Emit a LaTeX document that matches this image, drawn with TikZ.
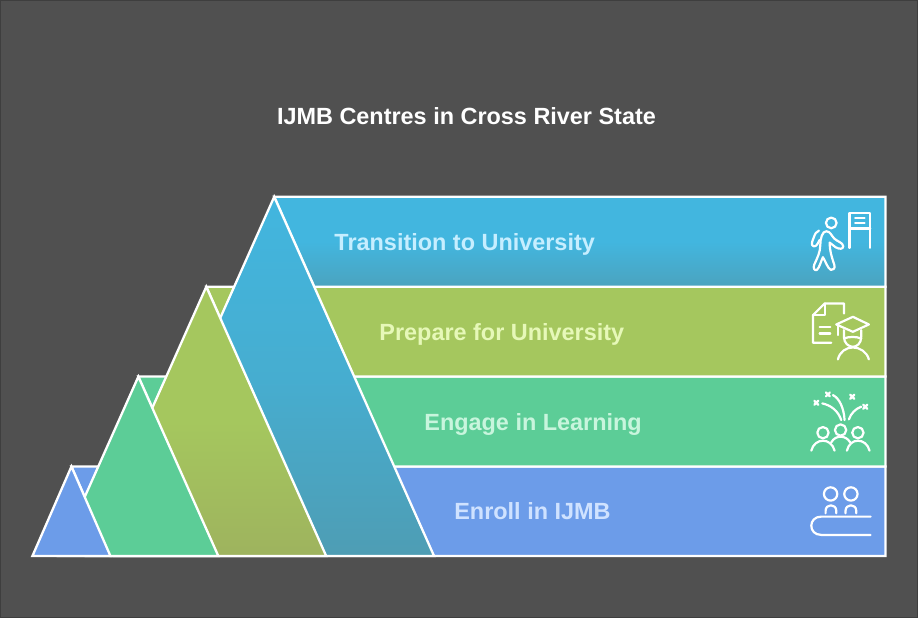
\documentclass[tikz,border=0pt]{standalone}
\usepackage{fontspec}
\usepackage{xcolor}
\setmainfont{Liberation Sans}
\usetikzlibrary{calc}

\definecolor{backgrey}{HTML}{505050}
\definecolor{edgegrey}{HTML}{3E3E3E}
\definecolor{barblue}{HTML}{6C9CE9}
\definecolor{bargreen}{HTML}{5CCD97}
\definecolor{barolive}{HTML}{A5C75E}
\definecolor{barcyan}{HTML}{42B6DF}
\definecolor{endcyan}{HTML}{4E9DB4}
\definecolor{endolive}{HTML}{9EB35E}
\definecolor{textblue}{HTML}{CFE2FF}
\definecolor{textgreen}{HTML}{C8F5DD}
\definecolor{textolive}{HTML}{E6F8B8}
\definecolor{textcyan}{HTML}{C6EEFF}

\tikzset{
	band/.style={draw=white, line width=0.046cm, line join=miter},
	icon/.style={draw=white, line width=0.044cm, line cap=round, line join=round},
	bandlabel/.style={anchor=base west, inner sep=0pt, font=\fontsize{13.35}{16}\selectfont\bfseries},
}

\begin{document}
\begin{tikzpicture}[x=0.02cm,y=-0.02cm]
	\draw [draw=edgegrey, fill=backgrey, line width=0.02cm] (0,0) rectangle (918,618);
	\useasboundingbox (0,0) rectangle (918,618);

	\node [anchor=base, inner sep=0pt, font=\fontsize{13.35}{16}\selectfont\bfseries, text=white] (title) at (466.5,124) {IJMB Centres in Cross River State};

	% bars, bottom one first
	\path [band, fill=barblue] (71,466.5) -- (886,466.5) -- (886,556) -- (110,556) -- cycle;
	\path [band, fill=bargreen] (138,376.5) -- (886,376.5) -- (886,466.5) -- (178,466.5) -- cycle;
	\path [band, fill=barolive] (206,286.5) -- (886,286.5) -- (886,376.5) -- (246,376.5) -- cycle;
	\path [band, top color=barcyan, bottom color=endcyan!75!barcyan, middle color=barcyan] (274,196.5) -- (886,196.5) -- (886,286.5) -- (314,286.5) -- cycle;

	% triangles, back to front
	\path [band, top color=barcyan, bottom color=endcyan, middle color=barcyan!65!endcyan] (274,196.5) -- (434,556) -- (114,556) -- cycle;
	\path [band, top color=barolive, bottom color=endolive, middle color=barolive] (206,286.5) -- (326,556) -- (86,556) -- cycle;
	\path [band, fill=bargreen] (138,376.5) -- (218,556) -- (58,556) -- cycle;
	\path [band, fill=barblue] (71,466.5) -- (110,556) -- (32,556) -- cycle;

	\node [bandlabel, text=textcyan] (transition) at (334,250) {Transition to University};
	\node [bandlabel, text=textolive] (prepare) at (379,340) {Prepare for University};
	\node [bandlabel, text=textgreen] (engage) at (424,430) {Engage in Learning};
	\node [bandlabel, text=textblue] (enroll) at (454,520) {Enroll in IJMB};

	% walker and sign
	\begin{scope}[shift={(790,195)},scale=0.3333]
		\draw [icon] (125,83) circle (16);
		\draw [icon] (180,158) -- (180,52) -- (242,52) -- (242,158);
		\draw [icon] (180,100) -- (242,100);
		\draw [icon] (197,67) -- (225,67);
		\draw [icon] (197,83) -- (225,83);
		\draw [icon] (88,106) .. controls (80,108) and (76,116) .. (72,128) .. controls (66,142) and (64,150) .. (72,153) .. controls (80,155) and (84,146) .. (90,134);
		\draw [icon] (110,108) .. controls (122,108) and (126,122) .. (134,130) .. controls (142,138) and (160,142) .. (161,153) .. controls (161,163) and (148,162) .. (138,156) -- (120,142) .. controls (120,165) and (126,185) .. (134,208) .. controls (138,220) and (130,226) .. (124,224) .. controls (114,220) and (108,198) .. (100,186) .. controls (94,198) and (90,216) .. (82,224) .. controls (74,228) and (70,218) .. (74,208) .. controls (84,186) and (92,170) .. (92,150) .. controls (92,130) and (98,108) .. (110,108);
	\end{scope}

	% document and cap
	\begin{scope}[shift={(790,195)},scale=0.3333]
		\draw [icon] (163,355) -- (163,325) -- (105,325) -- (70,360) -- (70,443) -- (125,443);
		\draw [icon] (105,325) -- (105,360) -- (70,360);
		\draw [icon] (90,395) -- (122,395);
		\draw [icon] (90,415) -- (122,415);
		\draw [icon] (140,388) -- (190,365) -- (238,388) -- (190,410) -- cycle;
		\draw [icon] (145,390) -- (145,420);
		\draw [icon] (163,405) -- (163,425) .. controls (163,445) and (178,455) .. (190,455) .. controls (202,455) and (215,445) .. (215,425) -- (215,405);
		\draw [icon] (163,430) .. controls (178,424) and (200,424) .. (215,430);
		\draw [icon] (145,493) .. controls (150,470) and (170,457) .. (190,457) .. controls (210,457) and (232,470) .. (238,493);
	\end{scope}

	% group and sparks
	\begin{scope}[shift={(790,380)},scale=0.3333]
		\foreach \headx/\heady in {100/158,153/150,205/158}
			\draw [icon] (\headx,\heady) circle (17);
		\draw [icon] (65,212) .. controls (70,192) and (85,182) .. (100,182) .. controls (115,182) and (130,192) .. (135,212);
		\draw [icon] (125,187) .. controls (132,175) and (142,170) .. (153,170) .. controls (164,170) and (174,175) .. (182,187);
		\draw [icon] (172,212) .. controls (177,192) and (190,182) .. (205,182) .. controls (220,182) and (235,192) .. (240,212);
		\draw [icon] (98,70) .. controls (125,76) and (145,92) .. (155,120);
		\draw [icon] (130,45) .. controls (150,55) and (163,85) .. (165,120);
		\draw [icon] (178,118) .. controls (184,100) and (198,86) .. (215,80);
		\foreach \sparkx/\sparky in {80/68,115/43,188/50,227/80}
			\draw [icon] (\sparkx-6,\sparky-6) -- (\sparkx+6,\sparky+6) (\sparkx-6,\sparky+6) -- (\sparkx+6,\sparky-6);
	\end{scope}

	% people at a table
	\begin{scope}[shift={(790,380)},scale=0.3333]
		\foreach \headx in {123,184}
			\draw [icon] (\headx,342) circle (20);
		\foreach \archx in {124,184}
			\draw [icon] (\archx-16,400) -- (\archx-16,392) .. controls (\archx-16,382) and (\archx-8,376) .. (\archx,376) .. controls (\archx+8,376) and (\archx+16,382) .. (\archx+16,392) -- (\archx+16,400);
		\draw [icon] (243,410) -- (95,410) .. controls (55,410) and (55,465) .. (95,465) -- (243,465);
	\end{scope}
\end{tikzpicture}
\end{document}
